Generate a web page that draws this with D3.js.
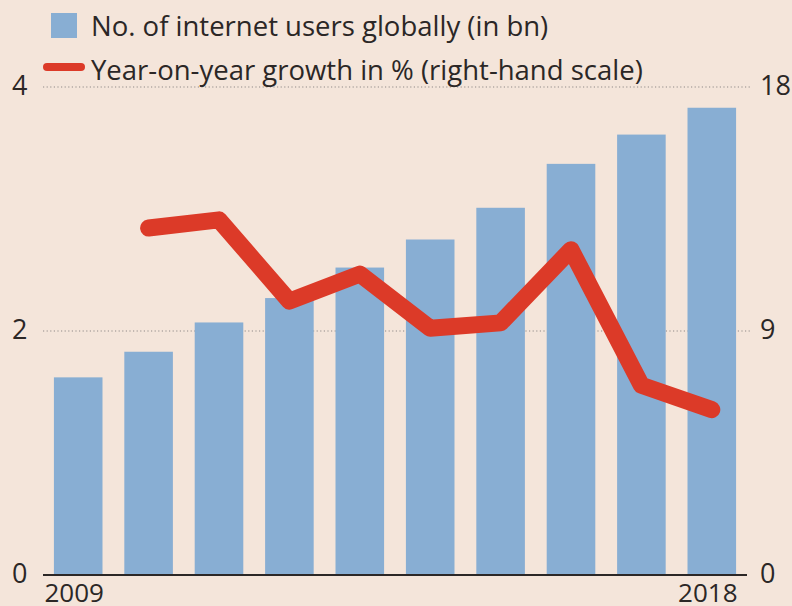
<!DOCTYPE html>
<html>
<head>
<meta charset="utf-8">
<script src="https://cdn.jsdelivr.net/npm/d3@7"></script>
<style>
  html, body { margin: 0; padding: 0; background: #f4e5da; }
  text { font-family: "Open Sans", sans-serif; fill: #2b2726; }
</style>
</head>
<body>
<div id="chart"></div>
<script>
// data
const years = ["2009", "2010", "2011", "2012", "2013", "2014", "2015", "2016", "2017", "2018"];
const users = [1.62, 1.83, 2.07, 2.27, 2.52, 2.75, 3.01, 3.37, 3.61, 3.83];
const growth = [null, 12.8, 13.1, 10.1, 11.1, 9.1, 9.3, 12.0, 7.0, 6.1];
const leftTicks = [0, 2, 4];
const rightTicks = [0, 9, 18];
const yearLabels = ["2009", "2018"];
const legendLabels = ["No. of internet users globally (in bn)", "Year-on-year growth in % (right-hand scale)"];

const canvasWidth = 792;
const canvasHeight = 606;
const plotLeft = 43, plotRight = 747, plotTop = 87, plotBottom = 575;

const svg = d3.select("#chart")
  .append("svg")
  .attr("width", canvasWidth)
  .attr("height", canvasHeight)
  .style("background", "#f4e5da");

const x = d3.scaleBand()
  .domain(years)
  .range([plotLeft, plotRight])
  .paddingInner(0.31)
  .paddingOuter(0.155);

const yLeft = d3.scaleLinear().domain([0, 4]).range([plotBottom, plotTop]);
const yRight = d3.scaleLinear().domain([0, 18]).range([plotBottom, plotTop]);

// dotted gridlines
svg.selectAll(".grid")
  .data(leftTicks.filter(d => d > 0))
  .enter()
  .append("line")
  .attr("x1", plotLeft)
  .attr("x2", 750)
  .attr("y1", d => yLeft(d))
  .attr("y2", d => yLeft(d))
  .attr("stroke", "#8f8a88")
  .attr("stroke-width", 1.2)
  .attr("stroke-dasharray", "1.2,2.4");

// bars
svg.selectAll(".bar")
  .data(users)
  .enter()
  .append("rect")
  .attr("x", (d, i) => x(years[i]))
  .attr("y", d => yLeft(d))
  .attr("width", x.bandwidth())
  .attr("height", d => yLeft(0) - yLeft(d))
  .attr("fill", "#88aed3");

// growth line
const line = d3.line()
  .defined(d => d != null)
  .x((d, i) => x(years[i]) + x.bandwidth() / 2)
  .y(d => yRight(d));

svg.append("path")
  .datum(growth)
  .attr("d", line)
  .attr("fill", "none")
  .attr("stroke", "#dc3a28")
  .attr("stroke-width", 17)
  .attr("stroke-linecap", "round")
  .attr("stroke-linejoin", "round");

// baseline
svg.append("line")
  .attr("x1", plotLeft)
  .attr("x2", plotRight)
  .attr("y1", yLeft(0))
  .attr("y2", yLeft(0))
  .attr("stroke", "#2b2726")
  .attr("stroke-width", 2);

// axis labels
svg.selectAll(".ly")
  .data(leftTicks)
  .enter()
  .append("text")
  .attr("x", 12)
  .attr("y", d => yLeft(d) + 8)
  .attr("font-size", 27)
  .text(d => d);

svg.selectAll(".ry")
  .data(rightTicks)
  .enter()
  .append("text")
  .attr("x", 760)
  .attr("y", d => yRight(d) + 8)
  .attr("font-size", 27)
  .text(d => d);

svg.selectAll(".xl")
  .data(yearLabels)
  .enter()
  .append("text")
  .attr("x", d => x(d) + x.bandwidth() / 2 - 4)
  .attr("y", 602)
  .attr("text-anchor", "middle")
  .attr("font-size", 26)
  .text(d => d);

// legend
svg.append("rect")
  .attr("x", 51).attr("y", 13)
  .attr("width", 26).attr("height", 25)
  .attr("fill", "#88aed3");

svg.append("line")
  .attr("x1", 47).attr("x2", 81)
  .attr("y1", 67).attr("y2", 67)
  .attr("stroke", "#dc3a28")
  .attr("stroke-width", 8)
  .attr("stroke-linecap", "round");

svg.selectAll(".leg")
  .data(legendLabels)
  .enter()
  .append("text")
  .attr("x", 91)
  .attr("y", (d, i) => 36 + i * 44)
  .attr("font-size", 27.5)
  .text(d => d);
</script>
</body>
</html>
